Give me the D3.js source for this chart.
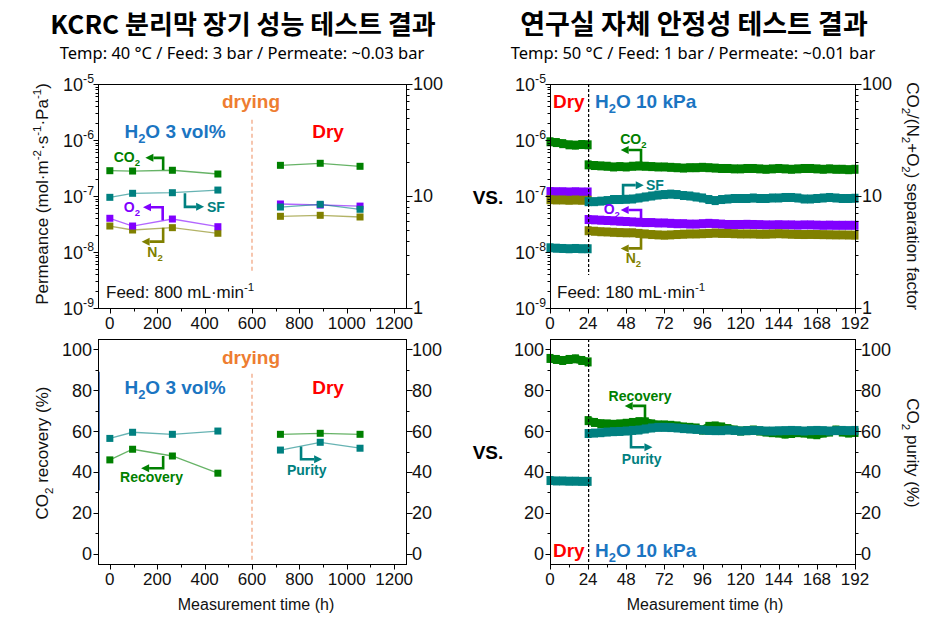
<!DOCTYPE html>
<html><head><meta charset="utf-8">
<script src="https://cdn.jsdelivr.net/npm/d3@7"></script>
<style>body{margin:0;background:#fff}svg{display:block}</style>
</head><body><svg id="c" width="947" height="626"></svg>
<script>
// ---------------- DATA ----------------
// Left panels (KCRC long-term test), time in h
const timeWet = [0, 96, 264, 456];
const timeDry = [720, 888, 1056];
const co2Wet = [2.83e-7, 2.79e-7, 2.88e-7, 2.47e-7];
const co2Dry = [3.53e-7, 3.84e-7, 3.39e-7];
const o2Wet  = [4.0e-8, 2.91e-8, 3.88e-8, 2.83e-8];
const o2Dry  = [7.2e-8, 6.9e-8, 6.6e-8];
const n2Wet  = [2.91e-8, 2.47e-8, 2.72e-8, 2.16e-8];
const n2Dry  = [4.34e-8, 4.52e-8, 4.22e-8];
const sfWet  = [9.73, 10.57, 10.7, 11.3];
const sfDry  = [7.97, 8.43, 7.61];
const recWet = [45.9, 51.1, 47.8, 39.4];
const recDry = [58.4, 58.9, 58.4];
const purWet = [56.4, 59.4, 58.4, 60.0];
const purDry = [50.7, 54.5, 51.6];

// Right panels (lab stability test), time in h
const tLabDry = [0, 4, 8, 12, 16, 20, 24];
const tLabWet = [24,28,32,36,40,44,48,52,56,60,64,68,72,76,80,84,88,92,96,100,104,108,112,116,120,124,128,132,136,140,144,148,152,156,160,164,168,172,176,180,184,188,192];
const co2LabDry = [9.3e-7, 9.0e-7, 8.6e-7, 8.2e-7, 8.1e-7, 8.3e-7, 8.2e-7];
const o2LabDry  = [1.20e-7, 1.19e-7, 1.19e-7, 1.18e-7, 1.19e-7, 1.18e-7, 1.18e-7];
const n2LabDry  = [8.6e-8, 8.5e-8, 8.5e-8, 8.4e-8, 8.5e-8, 8.4e-8, 8.4e-8];
const sfLabDry  = [3.45, 3.42, 3.40, 3.38, 3.40, 3.38, 3.38];
const co2LabWet = [3.6e-7,3.5e-7,3.45e-7,3.4e-7,3.3e-7,3.35e-7,3.3e-7,3.4e-7,3.45e-7,3.4e-7,3.35e-7,3.3e-7,3.3e-7,3.25e-7,3.2e-7,3.15e-7,3.2e-7,3.2e-7,3.25e-7,3.2e-7,3.15e-7,3.1e-7,3.1e-7,3.05e-7,3.05e-7,3.1e-7,3.1e-7,3.05e-7,3.0e-7,3.05e-7,3.1e-7,3.05e-7,3.0e-7,3.05e-7,3.1e-7,3.1e-7,3.05e-7,3.0e-7,3.05e-7,3.0e-7,3.0e-7,2.95e-7,3.0e-7];
const sfLabWet  = [8.9,8.9,9.0,9.1,9.3,9.3,9.35,9.4,9.6,9.8,10.0,10.2,10.3,10.4,10.3,10.1,10.0,9.8,9.6,9.3,9.1,9.3,9.4,9.5,9.5,9.5,9.6,9.5,9.5,9.6,9.6,9.7,9.7,9.6,9.4,9.4,9.5,9.6,9.7,9.6,9.5,9.5,9.55];
const o2LabWet  = [3.8e-8,3.75e-8,3.7e-8,3.65e-8,3.6e-8,3.55e-8,3.5e-8,3.45e-8,3.4e-8,3.35e-8,3.35e-8,3.3e-8,3.3e-8,3.25e-8,3.2e-8,3.2e-8,3.15e-8,3.15e-8,3.2e-8,3.25e-8,3.2e-8,3.15e-8,3.1e-8,3.1e-8,3.1e-8,3.12e-8,3.1e-8,3.08e-8,3.05e-8,3.05e-8,3.07e-8,3.05e-8,3.05e-8,3.02e-8,3.05e-8,3.05e-8,3.02e-8,3.0e-8,3.02e-8,3.0e-8,3.0e-8,3.0e-8,3.0e-8];
const n2LabWet  = [2.4e-8,2.35e-8,2.3e-8,2.28e-8,2.25e-8,2.22e-8,2.2e-8,2.2e-8,2.15e-8,2.1e-8,2.05e-8,2.02e-8,2.0e-8,2.02e-8,2.05e-8,2.08e-8,2.1e-8,2.1e-8,2.12e-8,2.15e-8,2.18e-8,2.15e-8,2.15e-8,2.12e-8,2.1e-8,2.1e-8,2.1e-8,2.08e-8,2.08e-8,2.1e-8,2.12e-8,2.1e-8,2.08e-8,2.06e-8,2.05e-8,2.06e-8,2.05e-8,2.04e-8,2.03e-8,2.02e-8,2.02e-8,2.01e-8,2.0e-8];
const recLabDry = [95.5, 95.0, 94.5, 95.0, 95.3, 94.5, 93.8];
const purLabDry = [35.8, 35.6, 35.6, 35.5, 35.5, 35.4, 35.4];
const recLabWet = [65.1,64.2,63.6,63.5,63.3,63.5,63.8,64.2,64.6,64.5,63.5,63.0,63.0,62.8,62.5,62.0,61.8,61.5,60.5,62.3,62.5,62.0,61.2,60.5,60.0,60.2,60.5,60.0,59.5,59.2,59.0,58.5,58.8,59.2,59.0,58.5,58.2,59.0,59.5,60.5,59.5,59.0,59.3];
const purLabWet = [58.8,59.0,59.2,59.5,59.7,59.8,60.0,60.3,60.5,61.0,61.5,61.8,61.8,61.7,61.5,61.2,61.0,60.8,60.5,60.3,60.2,60.2,60.5,60.3,60.0,60.2,60.3,60.2,60.0,60.0,60.1,60.2,60.3,60.2,60.0,60.2,60.3,60.2,60.0,60.2,60.3,60.2,60.3];

// tick labels
const xTicksL = [0, 200, 400, 600, 800, 1000, 1200];
const xMinorL = [100, 300, 500, 700, 900, 1100];
const xTicksR = [0, 24, 48, 72, 96, 120, 144, 168, 192];
const xMinorR = [12, 36, 60, 84, 108, 132, 156, 180];
const permExp = [-9, -8, -7, -6, -5];
const sfTicks = [1, 10, 100];
const pctTicks = [0, 20, 40, 60, 80, 100];
const pctMinor = [10, 30, 50, 70, 90];

// ---------------- SETUP ----------------
const C = {co2:"#008000", sf:"#008080", o2:"#8000ff", n2:"#808000", blue:"#1b75c2", red:"#ff0000", orange:"#ee7d31"};
const AF = "Arial, 'Liberation Sans', sans-serif";
const svg = d3.select("#c");

const P = {
  TL:{x0:98,x1:406,y0:84,y1:308}, TR:{x0:550,x1:855,y0:84,y1:308},
  BL:{x0:98,x1:406,y0:339,y1:564}, BR:{x0:550,x1:855,y0:339,y1:564}
};
const xl = d3.scaleLinear().domain([-50,1250]).range([P.TL.x0,P.TL.x1]);
const xr = d3.scaleLinear().domain([0,192]).range([P.TR.x0,P.TR.x1]);
const perm = d3.scaleLog().domain([1e-9,1e-5]).range([P.TL.y1,P.TL.y0]);
const sf = d3.scaleLog().domain([1,100]).range([P.TL.y1,P.TL.y0]);
const pct = d3.scaleLinear().domain([-5,105]).range([P.BL.y1,P.BL.y0]);

function rich(parent, x, y, parts, o) {
  const t = parent.append("text").attr("x",x).attr("y",y)
    .attr("font-family", o.font||AF).attr("font-size", o.size)
    .attr("font-weight", o.weight||"normal").attr("fill", o.fill||"#000")
    .attr("text-anchor", o.anchor||"start");
  if (o.transform) t.attr("transform", o.transform);
  let cur = 0;
  parts.forEach(p => {
    const [s,k] = Array.isArray(p) ? p : [p,null];
    const target = k==="sub" ? o.size*0.28 : k==="sup" ? -o.size*0.42 : 0;
    const ts = t.append("tspan").text(s).attr("dy", target-cur);
    if (k) ts.attr("font-size", o.size*0.68);
    cur = target;
  });
  return t;
}

function tickLines(orient, scale, pos, vals, len) {
  const g = svg.append("g").attr("stroke","#000").attr("stroke-width",1);
  g.selectAll("line").data(vals).join("line").each(function(v){
    const s = Math.round(scale(v)) + 0.5, el = d3.select(this);
    if (orient==="left") el.attr("x1",pos).attr("x2",pos-len).attr("y1",s).attr("y2",s);
    if (orient==="right") el.attr("x1",pos).attr("x2",pos+len).attr("y1",s).attr("y2",s);
    if (orient==="bottom") el.attr("y1",pos).attr("y2",pos+len).attr("x1",s).attr("x2",s);
  });
}
function logMinor(lo, hi) { const r=[]; for (let e=lo;e<hi;e++) for (let m=2;m<10;m++) r.push(m*Math.pow(10,e)); return r; }

function frame(p) {
  svg.append("rect").attr("x",p.x0+0.5).attr("y",p.y0+0.5).attr("width",p.x1-p.x0).attr("height",p.y1-p.y0)
    .attr("fill","none").attr("stroke","#000").attr("stroke-width",1);
}

function xAxis(p, scale, ticks, minor) {
  tickLines("bottom", scale, p.y1+0.5, ticks, 5);
  tickLines("bottom", scale, p.y1+0.5, minor, 3);
  svg.append("g").selectAll("text").data(ticks).join("text")
    .attr("x", d=>scale(d)).attr("y", p.y1+21).attr("text-anchor","middle")
    .attr("font-family",AF).attr("font-size",17).attr("fill","#111").text(d=>d);
}
function logLeft(p) {
  tickLines("left", perm, p.x0+0.5, permExp.map(e=>Math.pow(10,e)), 5);
  tickLines("left", perm, p.x0+0.5, logMinor(-9,-5), 3);
  permExp.forEach(e => rich(svg, p.x0-4, perm(Math.pow(10,e))+7, ["10",[String(e),"sup"]], {size:18, anchor:"end", fill:"#111"}));
}
function logRight(p) {
  tickLines("right", sf, p.x1+0.5, sfTicks, 6);
  tickLines("right", sf, p.x1+0.5, logMinor(0,2), 3);
  svg.append("g").selectAll("text").data(sfTicks).join("text")
    .attr("x", p.x1+7).attr("y", d=>sf(d)+6).attr("font-family",AF).attr("font-size",18).attr("fill","#111").text(d=>d);
}
function pctLeft(p) {
  tickLines("left", pct, p.x0+0.5, pctTicks, 5);
  tickLines("left", pct, p.x0+0.5, pctMinor, 3);
  svg.append("g").selectAll("text").data(pctTicks).join("text")
    .attr("x", p.x0-6).attr("y", d=>pct(d)+6.5).attr("text-anchor","end")
    .attr("font-family",AF).attr("font-size",18).attr("fill","#111").text(d=>d);
}
function pctRight(p) {
  tickLines("right", pct, p.x1+0.5, pctTicks, 6);
  tickLines("right", pct, p.x1+0.5, pctMinor, 3);
  svg.append("g").selectAll("text").data(pctTicks).join("text")
    .attr("x", p.x1+6).attr("y", d=>pct(d)+6.5)
    .attr("font-family",AF).attr("font-size",18).attr("fill","#111").text(d=>d);
}

// thin line + square markers (left panels)
function series(xs, ys, xS, yS, color) {
  const pts = xs.map((x,i)=>[xS(x), yS(ys[i])]);
  svg.append("path").attr("d", d3.line()(pts)).attr("fill","none")
    .attr("stroke",color).attr("stroke-width",1.3).attr("stroke-opacity",0.6);
  svg.append("g").selectAll("rect").data(pts).join("rect")
    .attr("x",d=>d[0]-3.5).attr("y",d=>d[1]-3.5).attr("width",7).attr("height",7).attr("fill",color);
}
// thick dense band (right panels)
function band(xs, ys, xS, yS, color) {
  const pts = xs.map((x,i)=>[xS(x), yS(ys[i])]);
  svg.append("path").attr("d", d3.line()(pts)).attr("fill","none")
    .attr("stroke",color).attr("stroke-width",8).attr("stroke-linejoin","miter");
  svg.append("g").selectAll("rect").data(pts).join("rect")
    .attr("x",d=>d[0]-3.5).attr("y",d=>d[1]-4.5).attr("width",7).attr("height",9).attr("fill",color);
}

function arrow(pts, color) {
  const n = pts.length, [x1,y1]=pts[n-2], [x2,y2]=pts[n-1];
  const L = Math.hypot(x2-x1,y2-y1), ux=(x2-x1)/L, uy=(y2-y1)/L, hl=8, hw=4;
  const bx=x2-ux*hl, by=y2-uy*hl;
  svg.append("path").attr("d", d3.line()(pts.slice(0,n-1).concat([[bx,by]])))
    .attr("fill","none").attr("stroke",color).attr("stroke-width",2.6).attr("stroke-linejoin","miter");
  svg.append("path").attr("d",`M${x2},${y2}L${bx-uy*hw},${by+ux*hw}L${bx+uy*hw},${by-ux*hw}Z`).attr("fill",color);
}
const ann = (pts, xS, yS, color) => arrow(pts.map(d=>[xS(d[0]), yS(d[1])]), color);

function vdash(x, y1, y2, color, dash) {
  svg.append("line").attr("x1",x).attr("x2",x).attr("y1",y1).attr("y2",y2)
    .attr("stroke",color).attr("stroke-width",1.2).attr("stroke-dasharray",dash);
}

// ---------------- TITLES ----------------
const KF = "'Noto Sans CJK KR', 'Noto Sans', sans-serif";
svg.append("text").attr("x",243).attr("y",34).attr("text-anchor","middle").attr("font-family",KF)
  .attr("font-weight","bold").attr("font-size",26).text("KCRC 분리막 장기 성능 테스트 결과");
svg.append("text").attr("x",242).attr("y",59).attr("text-anchor","middle").attr("font-family","'Noto Sans', sans-serif")
  .attr("font-size",16.5).text("Temp: 40 °C / Feed: 3 bar / Permeate: ~0.03 bar");
svg.append("text").attr("x",694).attr("y",34).attr("text-anchor","middle").attr("font-family",KF)
  .attr("font-weight","bold").attr("font-size",27).text("연구실 자체 안정성 테스트 결과");
svg.append("text").attr("x",693).attr("y",59).attr("text-anchor","middle").attr("font-family","'Noto Sans', sans-serif")
  .attr("font-size",16.5).text("Temp: 50 °C / Feed: 1 bar / Permeate: ~0.01 bar");

// VS.
[204, 459].forEach(y => svg.append("text").attr("x",488).attr("y",y).attr("text-anchor","middle")
  .attr("font-family",AF).attr("font-weight","bold").attr("font-size",19).text("VS."));

// ---------------- TOP-LEFT ----------------
vdash(xl(600), perm(2.3e-6), perm(4.2e-9), "#f0a07a", "4,3");
series(timeWet, n2Wet, xl, perm, C.n2); series(timeDry, n2Dry, xl, perm, C.n2);
series(timeWet, o2Wet, xl, perm, C.o2); series(timeDry, o2Dry, xl, perm, C.o2);
series(timeWet, sfWet, xl, sf, C.sf);   series(timeDry, sfDry, xl, sf, C.sf);
series(timeWet, co2Wet, xl, perm, C.co2); series(timeDry, co2Dry, xl, perm, C.co2);
frame(P.TL); xAxis(P.TL, xl, xTicksL, xMinorL); logLeft(P.TL); logRight(P.TL);

ann([[225,2.9e-7],[225,4.8e-7],[150,4.8e-7]], xl, perm, C.co2);
ann([[317,10.6],[317,8.0],[398,8.0]], xl, sf, C.sf);
ann([[223,3.7e-8],[223,6.3e-8],[140,6.3e-8]], xl, perm, C.o2);
ann([[225,2.7e-8],[225,1.53e-8],[134,1.53e-8]], xl, perm, C.n2);
const AO = (fill, anchor) => ({size:14, weight:"bold", fill, anchor});
rich(svg, 140, 162, ["CO",["2","sub"]], AO(C.co2,"end"));
rich(svg, 207, 212, ["SF"], AO(C.sf,"start"));
rich(svg, 140, 212, ["O",["2","sub"]], AO(C.o2,"end"));
rich(svg, 155, 257, ["N",["2","sub"]], AO(C.n2,"middle"));

const BIG = (fill) => ({size:19, weight:"bold", fill, anchor:"middle"});
rich(svg, xl(600)-1, 108, ["drying"], BIG(C.orange));
rich(svg, 175, 138, ["H",["2","sub"],"O 3 vol%"], BIG(C.blue));
rich(svg, 328, 138, ["Dry"], BIG(C.red));
rich(svg, 106, 298, ["Feed: 800 mL·min",["-1","sup"]], {size:17, fill:"#111"});

// ---------------- TOP-RIGHT ----------------
band(tLabDry, co2LabDry, xr, perm, C.co2); band(tLabWet, co2LabWet, xr, perm, C.co2);
band(tLabDry, o2LabDry, xr, perm, C.o2);   band(tLabWet, o2LabWet, xr, perm, C.o2);
band(tLabDry, n2LabDry, xr, perm, C.n2);   band(tLabWet, n2LabWet, xr, perm, C.n2);
band(tLabDry, sfLabDry, xr, sf, C.sf);     band(tLabWet, sfLabWet, xr, sf, C.sf);
vdash(xr(24)+0.5, perm(1e-5), perm(3.9e-9), "#000", "3,2");
frame(P.TR); xAxis(P.TR, xr, xTicksR, xMinorR); logLeft(P.TR); logRight(P.TR);

ann([[57.3,3.93e-7],[57.3,6.63e-7],[44.5,6.63e-7]], xr, perm, C.co2);
ann([[46,9.5],[46,12.5],[59,12.5]], xr, sf, C.sf);
ann([[57.3,4.0e-8],[57.3,5.62e-8],[44.5,5.62e-8]], xr, perm, C.o2);
ann([[57.3,1.88e-8],[57.3,1.16e-8],[44.5,1.16e-8]], xr, perm, C.n2);
rich(svg, xr(52.5), 144, ["CO",["2","sub"]], AO(C.co2,"middle"));
rich(svg, xr(59.8)+1, 190, ["SF"], AO(C.sf,"start"));
rich(svg, xr(44), 214, ["O",["2","sub"]], AO(C.o2,"end"));
rich(svg, xr(52.5), 263, ["N",["2","sub"]], AO(C.n2,"middle"));

rich(svg, 553, 108, ["Dry"], {size:19, weight:"bold", fill:C.red});
rich(svg, 595, 108, ["H",["2","sub"],"O 10 kPa"], {size:19, weight:"bold", fill:C.blue});
rich(svg, 557, 298, ["Feed: 180 mL·min",["-1","sup"]], {size:17, fill:"#111"});

// ---------------- BOTTOM-LEFT ----------------
vdash(xl(600), pct(88), pct(-4), "#f0a07a", "4,3");
series(timeWet, purWet, xl, pct, C.sf);  series(timeDry, purDry, xl, pct, C.sf);
series(timeWet, recWet, xl, pct, C.co2); series(timeDry, recDry, xl, pct, C.co2);
frame(P.BL); xAxis(P.BL, xl, xTicksL, xMinorL); pctLeft(P.BL); pctRight(P.BL);
svg.append("line").attr("x1",99.5).attr("x2",99.5).attr("y1",pct(89)).attr("y2",pct(31))
  .attr("stroke","#5a7fc0").attr("stroke-width",1);

ann([[225,47.8],[225,41.8],[132,41.8]], xl, pct, C.co2);
ann([[807,52.4],[807,46.2],[896,46.2]], xl, pct, C.sf);
rich(svg, xl(176), 482, ["Recovery"], AO(C.co2,"middle"));
rich(svg, xl(831), 475, ["Purity"], AO(C.sf,"middle"));

rich(svg, xl(600)-1, 364, ["drying"], BIG(C.orange));
rich(svg, 175, 394, ["H",["2","sub"],"O 3 vol%"], BIG(C.blue));
rich(svg, 328, 394, ["Dry"], BIG(C.red));

// ---------------- BOTTOM-RIGHT ----------------
band(tLabDry, recLabDry, xr, pct, C.co2); band(tLabWet, recLabWet, xr, pct, C.co2);
band(tLabDry, purLabDry, xr, pct, C.sf);  band(tLabWet, purLabWet, xr, pct, C.sf);
vdash(xr(24)+0.5, pct(105), pct(-5), "#000", "3,2");
frame(P.BR); xAxis(P.BR, xr, xTicksR, xMinorR); pctLeft(P.BR); pctRight(P.BR);

ann([[59.8,65.8],[59.8,72.3],[47,72.3]], xr, pct, C.co2);
ann([[51,58.9],[51,52.1],[64.5,52.1]], xr, pct, C.sf);
rich(svg, xr(56.7), 401, ["Recovery"], AO(C.co2,"middle"));
rich(svg, xr(57.7), 464, ["Purity"], AO(C.sf,"middle"));

rich(svg, 553, 557, ["Dry"], {size:19, weight:"bold", fill:C.red});
rich(svg, 595, 557, ["H",["2","sub"],"O 10 kPa"], {size:19, weight:"bold", fill:C.blue});

// ---------------- AXIS TITLES ----------------
rich(svg, 48, 194, ["Permeance (mol·m",["-2","sup"],"·s",["-1","sup"],"·Pa",["-1","sup"],")"],
  {size:17, anchor:"middle", fill:"#111", transform:"rotate(-90,48,194)"});
rich(svg, 907, 196, ["CO",["2","sub"],"/(N",["2","sub"],"+O",["2","sub"],") separation factor"],
  {size:17, anchor:"middle", fill:"#111", transform:"rotate(90,907,196)"});
rich(svg, 48, 453, ["CO",["2","sub"]," recovery (%)"],
  {size:17, anchor:"middle", fill:"#111", transform:"rotate(-90,48,453)"});
rich(svg, 907, 453, ["CO",["2","sub"]," purity (%)"],
  {size:17, anchor:"middle", fill:"#111", transform:"rotate(90,907,453)"});
rich(svg, 256, 610, ["Measurement time (h)"], {size:16, anchor:"middle", fill:"#111"});
rich(svg, 705, 610, ["Measurement time (h)"], {size:16, anchor:"middle", fill:"#111"});
</script></body></html>
